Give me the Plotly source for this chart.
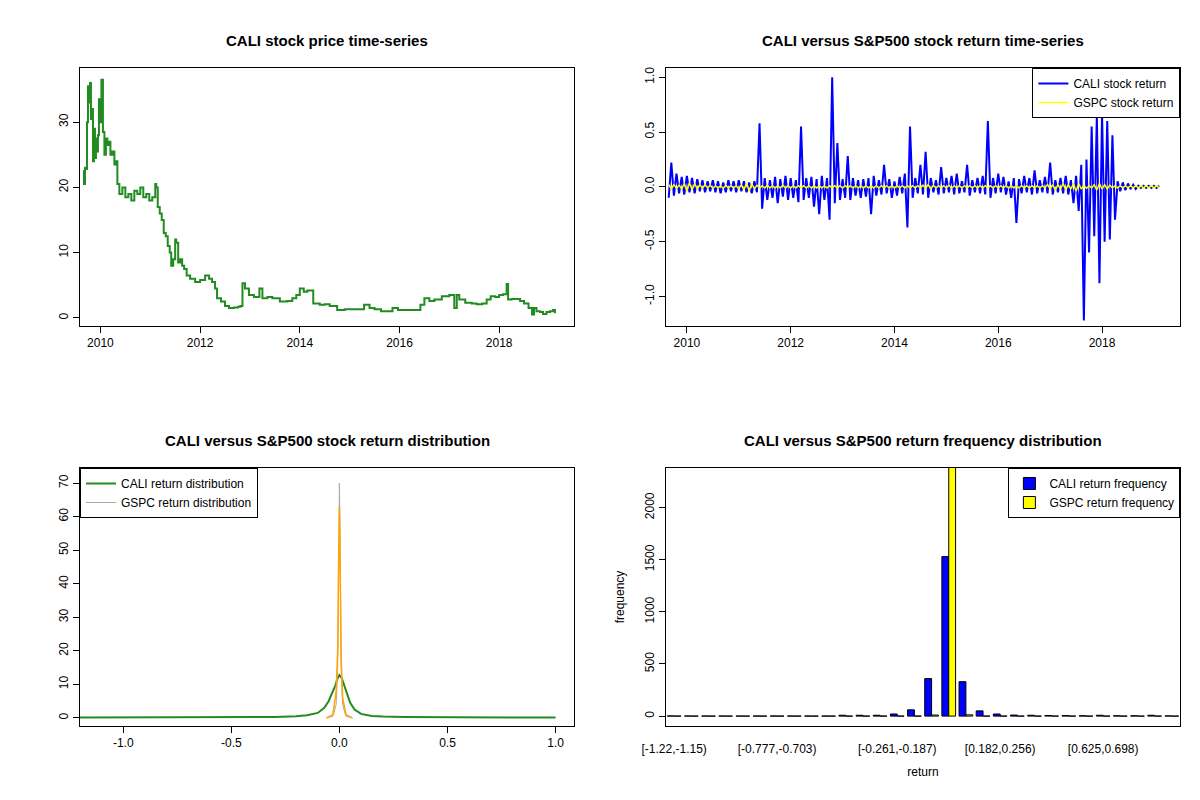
import logging
import pandas as pd
import plotly.graph_objects as go

from plotly.subplots import make_subplots


logger = logging.getLogger(__name__)

# CALI close price (decimal year, price)
PRICE = pd.DataFrame(
    {
        "time": [2009.65, 2009.67, 2009.69, 2009.71, 2009.73, 2009.75, 2009.77, 2009.79,
                 2009.81, 2009.83, 2009.85, 2009.87, 2009.89, 2009.91, 2009.93, 2009.95,
                 2009.97, 2009.99, 2010.02, 2010.05, 2010.08, 2010.11, 2010.14, 2010.17,
                 2010.2, 2010.24, 2010.28, 2010.31, 2010.34, 2010.38, 2010.44, 2010.5,
                 2010.56, 2010.62, 2010.68, 2010.74, 2010.8, 2010.86, 2010.92, 2010.98,
                 2011.04, 2011.1, 2011.12, 2011.15, 2011.19, 2011.23, 2011.27, 2011.31,
                 2011.35, 2011.39, 2011.42, 2011.46, 2011.5, 2011.52, 2011.56, 2011.6,
                 2011.64, 2011.68, 2011.73, 2011.8, 2011.9, 2012.0, 2012.1, 2012.18,
                 2012.24, 2012.3, 2012.34, 2012.42, 2012.5, 2012.58, 2012.68, 2012.76,
                 2012.81, 2012.85, 2012.9, 2012.98, 2013.08, 2013.19, 2013.25, 2013.35,
                 2013.45, 2013.6, 2013.75, 2013.85, 2013.93, 2014.0, 2014.08, 2014.15,
                 2014.27, 2014.4, 2014.5, 2014.6, 2014.75, 2014.9, 2015.05, 2015.22,
                 2015.29, 2015.4, 2015.5, 2015.63, 2015.75, 2015.86, 2015.97, 2016.1,
                 2016.25, 2016.34, 2016.42, 2016.5, 2016.6, 2016.7, 2016.85, 2017.0,
                 2017.08, 2017.1, 2017.15, 2017.2, 2017.32, 2017.45, 2017.55, 2017.66,
                 2017.75, 2017.83, 2017.92, 2018.0, 2018.08, 2018.15, 2018.18, 2018.25,
                 2018.35, 2018.42, 2018.5, 2018.59, 2018.66, 2018.7, 2018.75, 2018.82,
                 2018.88, 2018.95, 2019.02, 2019.08, 2019.12],
        "close": [22.5, 20.5, 23.0, 22.8, 30.0, 35.5, 33.0, 36.0, 30.5, 32.0, 24.0, 29.0,
                  24.5, 27.5, 25.5, 28.0, 33.5, 30.0, 36.5, 28.5, 25.0, 27.5, 26.5, 27.0,
                  25.0, 25.5, 23.5, 24.0, 20.5, 19.0, 20.0, 18.5, 19.0, 18.0, 19.5, 19.0,
                  20.0, 18.5, 19.0, 18.0, 18.5, 20.5, 20.0, 17.0, 16.0, 15.0, 13.0, 12.5,
                  11.0, 10.0, 8.0, 9.0, 12.0, 11.5, 8.5, 9.0, 8.0, 7.5, 6.5, 6.0,
                  5.5, 5.8, 6.5, 6.0, 5.5, 4.5, 3.0, 2.5, 1.8, 1.5, 1.6, 1.7,
                  1.8, 5.3, 4.5, 3.5, 3.2, 4.5, 3.0, 3.2, 3.0, 2.5, 2.6, 3.0,
                  3.5, 4.5, 4.0, 4.2, 2.2, 2.0, 2.1, 1.8, 1.2, 1.3, 1.3, 1.3,
                  2.0, 1.5, 1.3, 1.0, 1.0, 1.5, 1.2, 1.2, 1.2, 1.2, 2.0, 3.0,
                  2.6, 2.8, 3.3, 3.5, 3.5, 1.5, 3.5, 2.8, 2.3, 2.2, 2.1, 2.2,
                  2.8, 3.3, 3.2, 3.5, 3.6, 5.2, 2.8, 2.9, 2.9, 2.6, 2.2, 1.5,
                  0.5, 1.5, 1.0, 0.9, 0.6, 0.9, 1.0, 1.2, 0.7],
    }
)

# daily-ish return samples (decimal year, CALI, GSPC)
RET_TIME = [2009.65 + 0.05 * i for i in range(190)]
CALI_RET = [
    -0.10, 0.22, -0.08, 0.12, -0.06, 0.09, -0.07, 0.10, -0.05, 0.08, -0.06, 0.07,
    -0.04, 0.06, -0.05, 0.05, -0.04, 0.06, -0.05, 0.05, -0.06, 0.04, -0.05, 0.06,
    -0.04, 0.05, -0.05, 0.06, -0.04, 0.05, -0.05, 0.04, -0.06, 0.05, -0.05, 0.58,
    -0.20, 0.08, -0.12, 0.06, -0.10, 0.09, -0.15, 0.07, -0.09, 0.10, -0.12, 0.08,
    -0.10, 0.06, -0.14, 0.55, -0.12, 0.08, -0.10, 0.09, -0.18, 0.07, -0.25, 0.10,
    -0.12, 0.08, -0.30, 1.00, -0.15, 0.40, -0.12, 0.07, -0.10, 0.28, -0.12, 0.08,
    -0.08, 0.06, -0.10, 0.07, -0.09, 0.08, -0.25, 0.10, -0.08, 0.06, -0.07, 0.20,
    -0.06, 0.07, -0.10, 0.05, -0.08, 0.09, -0.06, 0.12, -0.37, 0.55, -0.10, 0.08,
    -0.06, 0.20, -0.07, 0.32, -0.10, 0.08, -0.05, 0.06, -0.07, 0.18, -0.06, 0.08,
    -0.05, 0.10, -0.07, 0.12, -0.06, 0.05, -0.05, 0.20, -0.08, 0.06, -0.05, 0.08,
    -0.06, 0.10, -0.07, 0.60, -0.10, 0.08, -0.06, 0.12, -0.05, 0.09, -0.07, 0.05,
    -0.10, 0.08, -0.33, 0.07, -0.06, 0.10, -0.05, 0.08, -0.07, 0.15, -0.06, 0.06,
    -0.05, 0.09, -0.06, 0.22, -0.07, 0.06, -0.05, 0.08, -0.06, 0.10, -0.07, 0.06,
    -0.15, 0.10, -0.22, 0.20, -1.22, 0.25, -0.60, 0.55, -0.45, 0.65, -0.88, 0.67,
    -0.50, 0.60, -0.48, 0.47, -0.30, 0.05, -0.04, 0.04, -0.03, 0.03, -0.02, 0.02,
    -0.02, 0.01, -0.01, 0.01, -0.01, 0.01, -0.01, 0.01, -0.01, 0.01,
]
GSPC_RET = [
    0.02, -0.02, 0.02, -0.015, 0.015, -0.02, 0.03, -0.04, 0.04, -0.03, 0.03, -0.02,
    0.02, -0.015, 0.02, -0.01, 0.015, -0.015, 0.01, -0.01, 0.01, -0.015, 0.015, -0.01,
    0.01, -0.01, 0.01, -0.02, 0.02, -0.03, 0.04, -0.04, 0.03, -0.02, 0.015, -0.015,
    0.01, -0.01, 0.015, -0.01, 0.01, -0.01, 0.01, -0.01, 0.015, -0.01, 0.01, -0.01,
    0.01, -0.01, 0.01, -0.01, 0.01, -0.01, 0.01, -0.01, 0.01, -0.01, 0.01, -0.01,
    0.01, -0.01, 0.01, -0.01, 0.01, -0.01, 0.01, -0.01, 0.01, -0.01, 0.01, -0.01,
    0.01, -0.01, 0.01, -0.01, 0.01, -0.01, 0.01, -0.01, 0.01, -0.01, 0.01, -0.01,
    0.01, -0.01, 0.01, -0.01, 0.01, -0.01, 0.01, -0.01, 0.01, -0.01, 0.01, -0.01,
    0.01, -0.01, 0.015, -0.015, 0.02, -0.02, 0.015, -0.01, 0.01, -0.01, 0.01, -0.01,
    0.015, -0.015, 0.01, -0.01, 0.01, -0.01, 0.01, -0.01, 0.01, -0.01, 0.01, -0.01,
    0.01, -0.01, 0.01, -0.01, 0.01, -0.01, 0.01, -0.01, 0.01, -0.01, 0.01, -0.01,
    0.01, -0.01, 0.01, -0.01, 0.01, -0.01, 0.01, -0.01, 0.01, -0.01, 0.01, -0.01,
    0.01, -0.01, 0.02, -0.02, 0.02, -0.03, 0.02, -0.02, 0.03, -0.03, 0.02, -0.02,
    0.03, -0.04, 0.03, -0.02, 0.015, -0.015, 0.01, -0.01, 0.02, -0.03, 0.03, -0.02,
    0.02, -0.02, 0.015, -0.01, 0.01, -0.01, 0.01, -0.01, 0.01, -0.01, 0.01, -0.01,
    0.01, -0.01, 0.01, -0.01, 0.01, -0.01, 0.01, -0.01, 0.01, -0.01,
]

# kernel density curves
DENS_X = [-1.22, -0.6, -0.3, -0.2, -0.15, -0.1, -0.07, -0.05, -0.035, -0.02, -0.01, 0.0,
          0.01, 0.02, 0.035, 0.05, 0.07, 0.1, 0.15, 0.2, 0.3, 0.6, 1.0]
CALI_DENS = [0.1, 0.2, 0.3, 0.5, 0.8, 1.5, 3.0, 5.0, 7.0, 9.5, 11.5, 12.8,
             12.0, 10.0, 7.0, 4.5, 2.5, 1.2, 0.6, 0.4, 0.3, 0.2, 0.1]
GSPC_X = [-0.06, -0.03, -0.015, -0.008, -0.004, -0.002, 0.0, 0.002, 0.004, 0.008, 0.015, 0.03, 0.06]
GSPC_DENS = [0.0, 0.5, 4.0, 15.0, 40.0, 60.0, 70.0, 60.0, 40.0, 15.0, 4.0, 0.5, 0.0]
GSPC_DENS2 = [0.0, 1.0, 8.0, 20.0, 45.0, 58.0, 63.0, 55.0, 38.0, 18.0, 6.0, 1.0, 0.0]

# frequency table, 30 bins of width 0.0738 starting at -1.22
CALI_FREQ = [2, 1, 1, 1, 1, 1, 1, 1, 1, 1, 8, 8, 8, 20, 60, 360, 1530, 330, 50, 20,
             10, 8, 6, 5, 3, 8, 3, 3, 8, 2]
GSPC_FREQ = [0, 0, 0, 0, 0, 0, 0, 0, 0, 0, 0, 0, 0, 0, 0, 10, 2450, 12, 0, 0,
             0, 0, 0, 0, 0, 0, 0, 0, 0, 0]


class PlotData:
    """Four panel view of CALI against the S&P500.

    Methods:
    plot_all():
        Build the price, return, density and frequency panels."""

    def __init__(self) -> None:
        pass

    @classmethod
    def plot_all(self) -> go.Figure:
        """Build the 2x2 figure and write it to out.html."""
        fig = make_subplots(rows=2, cols=2)

        fig.add_trace(
            go.Scatter(
                x=PRICE["time"], y=PRICE["close"], mode="lines",
                line=dict(color="forestgreen", width=2, shape="hv"),
                showlegend=False,
            ),
            row=1, col=1,
        )

        fig.add_trace(
            go.Scatter(
                x=RET_TIME, y=CALI_RET, mode="lines", name="CALI stock return",
                line=dict(color="blue", width=2), legend="legend",
            ),
            row=1, col=2,
        )
        fig.add_trace(
            go.Scatter(
                x=RET_TIME, y=GSPC_RET, mode="lines", name="GSPC stock return",
                line=dict(color="yellow", width=1.5), legend="legend",
            ),
            row=1, col=2,
        )

        fig.add_trace(
            go.Scatter(
                x=DENS_X, y=CALI_DENS, mode="lines", name="CALI return distribution",
                line=dict(color="forestgreen", width=2), legend="legend2",
            ),
            row=2, col=1,
        )
        fig.add_trace(
            go.Scatter(
                x=GSPC_X, y=GSPC_DENS, mode="lines", name="GSPC return distribution",
                line=dict(color="darkgrey", width=1), legend="legend2",
            ),
            row=2, col=1,
        )
        fig.add_trace(
            go.Scatter(
                x=GSPC_X, y=GSPC_DENS2, mode="lines", showlegend=False,
                line=dict(color="orange", width=1.5),
            ),
            row=2, col=1,
        )

        edges = [-1.22 + 0.0738 * i for i in range(31)]
        labels = [f"[{edges[i]:.3g},{edges[i + 1]:.3g})" for i in range(30)]
        labels[25] = "[0.625,0.698)"  # as printed on the chart
        fig.add_trace(
            go.Bar(
                x=labels, y=CALI_FREQ, name="CALI return frequency",
                marker=dict(color="blue", line=dict(color="black", width=1)),
                legend="legend3",
            ),
            row=2, col=2,
        )
        fig.add_trace(
            go.Bar(
                x=labels, y=GSPC_FREQ, name="GSPC return frequency",
                marker=dict(color="yellow", line=dict(color="black", width=1)),
                legend="legend3",
            ),
            row=2, col=2,
        )

        axis = dict(
            showline=True, mirror=True, linecolor="black", linewidth=1,
            ticks="outside", ticklen=6, tickcolor="black", showgrid=False,
            zeroline=False, automargin=False, tickfont=dict(size=12, color="black"),
        )
        fig.update_xaxes(**axis)
        fig.update_yaxes(**axis, tickangle=-90)

        fig.update_layout(
            xaxis=dict(domain=[0.06, 0.472], range=[2009.59, 2019.51],
                       tickvals=[2010, 2012, 2014, 2016, 2018]),
            yaxis=dict(domain=[0.6025, 0.925], range=[-1.25, 38.3],
                       tickvals=[0, 10, 20, 30]),
            xaxis2=dict(domain=[0.548, 0.977], range=[2009.59, 2019.51],
                        tickvals=[2010, 2012, 2014, 2016, 2018]),
            yaxis2=dict(domain=[0.6025, 0.925], range=[-1.27, 1.084],
                        tickvals=[-1.0, -0.5, 0.0, 0.5, 1.0],
                        ticktext=["-1.0", "-0.5", "0.0", "0.5", "1.0"]),
            xaxis3=dict(domain=[0.06, 0.472], range=[-1.2, 1.087],
                        tickvals=[-1.0, -0.5, 0.0, 0.5, 1.0],
                        ticktext=["-1.0", "-0.5", "0.0", "0.5", "1.0"]),
            yaxis3=dict(domain=[0.1025, 0.425], range=[-2.4, 74.5],
                        tickvals=[0, 10, 20, 30, 40, 50, 60, 70]),
            xaxis4=dict(domain=[0.548, 0.977], ticks="", ticklabelstandoff=12,
                        tickvals=[labels[i] for i in (0, 6, 13, 19, 25)],
                        title=dict(text="return", standoff=12,
                                   font=dict(size=12, color="black"))),
            yaxis4=dict(domain=[0.1025, 0.425], range=[-95, 2380],
                        tickvals=[0, 500, 1000, 1500, 2000],
                        title=dict(text="frequency", font=dict(size=12, color="black"))),
            barmode="group", bargap=0.2, bargroupgap=0,
            width=1200, height=800, margin=dict(l=0, r=0, t=0, b=0),
            plot_bgcolor="white", paper_bgcolor="white",
            font=dict(family="Liberation Sans, Arial", size=12, color="black"),
            legend=dict(x=0.977, y=0.925, xanchor="right", yanchor="top",
                        bordercolor="black", borderwidth=1, font=dict(size=12)),
            legend2=dict(x=0.06, y=0.425, xanchor="left", yanchor="top",
                         bordercolor="black", borderwidth=1, font=dict(size=12)),
            legend3=dict(x=0.977, y=0.425, xanchor="right", yanchor="top",
                         bordercolor="black", borderwidth=1, font=dict(size=12)),
        )

        titles = [
            ("CALI stock price time-series", 0.266, 0.96),
            ("CALI versus S&P500 stock return time-series", 0.7625, 0.96),
            ("CALI versus S&P500 stock return distribution", 0.266, 0.46),
            ("CALI versus S&P500 return frequency distribution", 0.7625, 0.46),
        ]
        for text, x, y in titles:
            fig.add_annotation(
                text=f"<b>{text}</b>", x=x, y=y, xref="paper", yref="paper",
                xanchor="center", yanchor="middle",
                showarrow=False, font=dict(size=15, color="black"),
            )

        logger.info("Plot CALI versus S&P500 panels")
        fig.write_html("out.html")
        return fig


PlotData.plot_all()
